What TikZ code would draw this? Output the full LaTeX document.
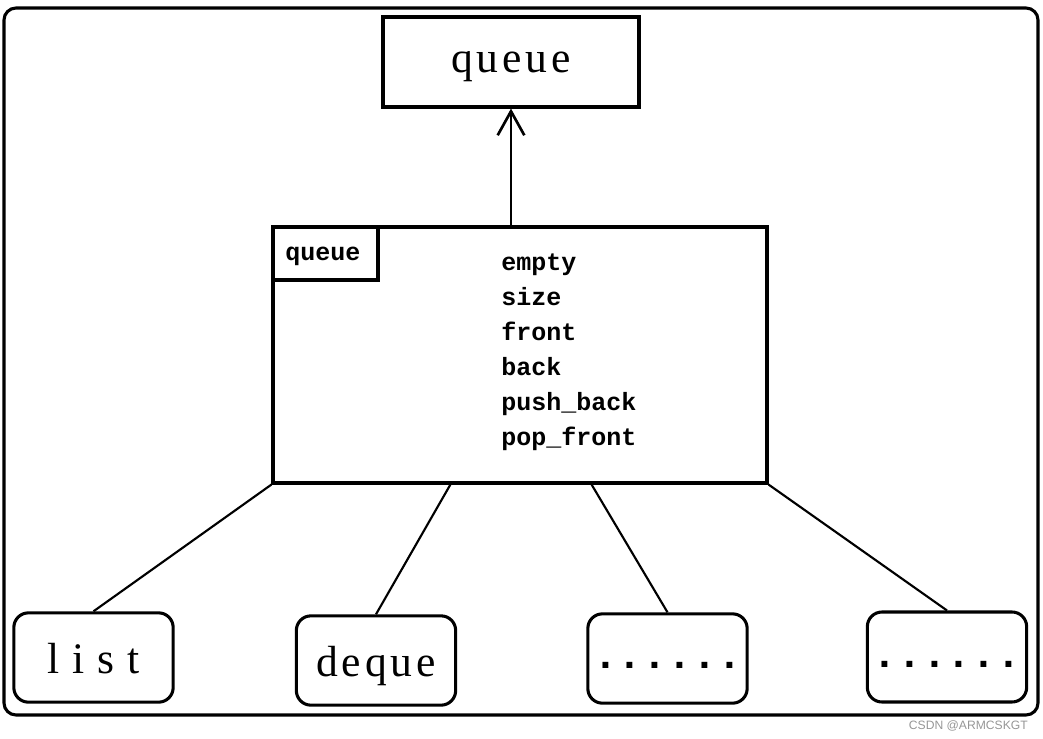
\documentclass[tikz,border=0pt]{standalone}
\usepackage{fontspec}
\setmainfont{Liberation Serif}
\newfontfamily\monof{Liberation Mono}
\newfontfamily\wmfont{Liberation Sans}
\usetikzlibrary{arrows.meta,calc}
\definecolor{wmgray}{RGB}{150,150,150}
\begin{document}
\begin{tikzpicture}[x=0.75pt,y=-0.75pt,
  sqbox/.style={draw,line width=2.3pt,inner sep=0pt},
  rbox/.style={draw,line width=2.3pt,rounded corners=11pt,inner sep=0pt,
    minimum width=119.5pt,minimum height=67pt},
  bigtext/.style={font=\addfontfeature{LetterSpace=9}\fontsize{32.7}{36}\selectfont},
  widetext/.style={font=\addfontfeature{LetterSpace=30}\fontsize{32.7}{36}\selectfont},
  dotstext/.style={font=\monof\bfseries\fontsize{31}{34}\selectfont,text height=15pt,text depth=0pt},
  methods/.style={font=\monof\bfseries\fontsize{18.75}{26.25}\selectfont,align=left,inner sep=0pt},
  conn/.style={line width=1.6pt}]
\useasboundingbox (0,0) rectangle (1043,739);
% outer frame
\draw[line width=2.3pt,rounded corners=9pt] (4,8) rectangle (1038,715);
% top queue box
\node[sqbox,bigtext,minimum width=192pt,minimum height=67.5pt,text height=15pt,text depth=0pt] (top) at (511,62) {queue};
% main box
\node[sqbox,minimum width=370.5pt,minimum height=192pt] (main) at (520,355) {};
\node[sqbox,anchor=north west,minimum width=78.75pt,minimum height=39.75pt] (tab) at (main.north west) {};
\node[methods,anchor=base west] (tabtext) at (285,260) {queue};
\node[methods,anchor=base west] (meth) at (501,445) {empty\\size\\front\\back\\push\_back\\pop\_front};
% arrow
\draw[line width=2pt,-{Straight Barb[length=18pt,width=20pt,line width=2pt]}] (top.south |- main.north) -- (top.south);
% bottom boxes
\node[rbox,widetext,text height=24pt,text depth=0pt] (list) at (93.5,657.5) {list};
\node[rbox,bigtext,text height=24pt,text depth=0pt] (deque) at (376,660.5) {deque};
\node[rbox,dotstext] (dots1) at (667.5,658.5) {......};
\node[rbox,dotstext,minimum height=67.5pt] (dots2) at (947,657) {......};
% connectors
\draw[conn] (main.south west) -- (list.north);
\draw[conn] ($(main.south west)!0.36!(main.south east)$) -- (deque.north);
\draw[conn] ($(main.south west)!0.644!(main.south east)$) -- (dots1.north);
\draw[conn] (main.south east) -- (dots2.north);
% watermark
\node[anchor=base east,inner sep=0pt,text=wmgray,font=\wmfont\fontsize{9.1}{10}\selectfont] (wm) at (1028,729) {CSDN @ARMCSKGT};
\end{tikzpicture}
\end{document}
